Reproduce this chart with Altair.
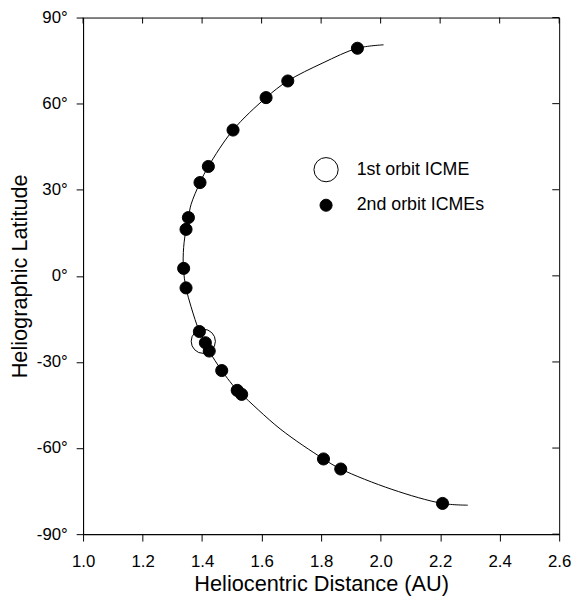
import altair as alt
import pandas as pd

FONT = "Liberation Sans"

# Orbit track (heliocentric distance in AU, heliographic latitude in degrees)
curve_dist = [2.010, 1.922, 1.806, 1.688, 1.615, 1.504, 1.421, 1.393, 1.363, 1.354,
              1.346, 1.338, 1.337, 1.346, 1.363, 1.391, 1.411, 1.424, 1.466, 1.518,
              1.533, 1.662, 1.808, 1.866, 2.038, 2.208, 2.293]
curve_lat = [80.5, 79.3, 74.2, 67.9, 62.1, 50.8, 38.1, 32.5, 24.9, 20.3,
             16.2, 9.9, 2.6, -4.2, -10.8, -19.4, -23.3, -26.2, -33.0, -39.9,
             -41.3, -53.3, -63.8, -67.3, -74.4, -79.3, -79.9]

# ICMEs
icme1_dist = [1.404]
icme1_lat = [-22.8]
icme2_dist = [1.922, 1.688, 1.615, 1.504, 1.421, 1.393, 1.354, 1.346, 1.338, 1.346,
              1.391, 1.411, 1.424, 1.466, 1.518, 1.533, 1.808, 1.866, 2.208]
icme2_lat = [79.3, 67.9, 62.1, 50.8, 38.1, 32.5, 20.3, 16.2, 2.6, -4.2,
             -19.4, -23.3, -26.2, -33.0, -39.9, -41.3, -63.8, -67.3, -79.3]

labels = ["1st orbit ICME", "2nd orbit ICMEs"]
x_ticks = [1.0, 1.2, 1.4, 1.6, 1.8, 2.0, 2.2, 2.4, 2.6]
y_ticks = [-90, -60, -30, 0, 30, 60, 90]

curve_df = pd.DataFrame({"dist": curve_dist, "lat": curve_lat,
                         "order": list(range(len(curve_dist)))})
pts_df = pd.DataFrame({
    "dist": icme1_dist + icme2_dist,
    "lat": icme1_lat + icme2_lat,
    "orbit": [labels[0]] * len(icme1_dist) + [labels[1]] * len(icme2_dist),
})
top_df = pd.DataFrame({"dist": x_ticks})
right_df = pd.DataFrame({"lat": y_ticks})

xscale = alt.Scale(domain=[1.0, 2.6], nice=False, zero=False)
yscale = alt.Scale(domain=[-90, 90], nice=False, zero=False)

common_axis = dict(grid=False, domainColor="black", tickColor="black",
                   labelColor="black", titleColor="black",
                   labelFont=FONT, titleFont=FONT, labelFontSize=17,
                   titleFontSize=22, titleFontWeight="normal", tickSize=7,
                   domainWidth=1, tickWidth=1, labelFlush=False)

x_axis = alt.Axis(values=x_ticks, format=".1f", title="Heliocentric Distance (AU)",
                  labelPadding=13, titlePadding=4, **common_axis)
y_axis = alt.Axis(values=y_ticks, labelExpr="datum.value + '°'",
                  title="Heliographic Latitude", labelPadding=9, titlePadding=5,
                  **common_axis)

curve = alt.Chart(curve_df).mark_line(
    interpolate="catmull-rom", color="black", strokeWidth=1
).encode(
    x=alt.X("dist:Q", scale=xscale, axis=x_axis),
    y=alt.Y("lat:Q", scale=yscale, axis=y_axis),
    order="order:Q",
)

legend = alt.Legend(orient="none", legendX=233, legendY=141, title=None,
                    labelFont=FONT, labelFontSize=18, labelColor="black",
                    symbolStrokeColor="black", symbolStrokeWidth=1,
                    rowPadding=12, labelOffset=18, padding=0)

points = alt.Chart(pts_df).mark_circle(
    strokeWidth=1, opacity=1
).encode(
    x=alt.X("dist:Q", scale=xscale),
    y=alt.Y("lat:Q", scale=yscale),
    fill=alt.Fill("orbit:N", scale=alt.Scale(domain=labels, range=["transparent", "black"]),
                  legend=legend),
    stroke=alt.Stroke("orbit:N", scale=alt.Scale(domain=labels, range=["black", "black"]),
                      legend=legend),
    size=alt.Size("orbit:N", scale=alt.Scale(domain=labels, range=[600, 150]),
                  legend=legend),
)

# Inward mirror ticks on the top and right frame edges
top_ticks = alt.Chart(top_df).mark_tick(
    orient="vertical", size=6, thickness=1, color="black", yOffset=3, opacity=1
).encode(
    x=alt.X("dist:Q", scale=xscale),
    y=alt.datum(90, scale=yscale),
)
right_ticks = alt.Chart(right_df).mark_tick(
    orient="horizontal", size=7, thickness=1, color="black", xOffset=-3.5, opacity=1
).encode(
    x=alt.datum(2.6, scale=xscale),
    y=alt.Y("lat:Q", scale=yscale),
)

chart = alt.layer(curve, points, top_ticks, right_ticks).properties(
    width=482, height=523,
    autosize="none",
    padding={"left": 76, "top": 6, "right": 14, "bottom": 63},
).configure_view(stroke="black", strokeWidth=1)

chart.save("out.html", embed_options={"renderer": "svg", "actions": False})
